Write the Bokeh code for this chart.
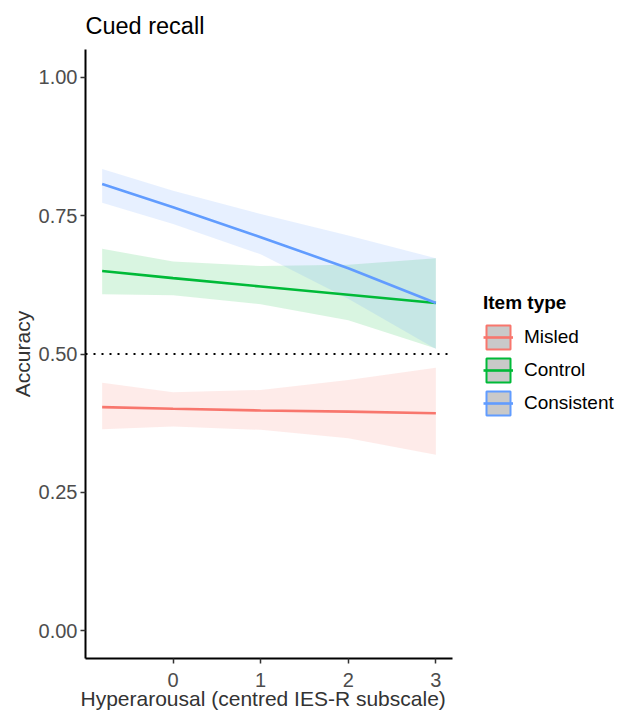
import math
from bokeh.plotting import figure
from bokeh.models import (Range1d, FixedTicker, Legend, LegendItem,
                          ColumnDataSource, Title)
from bokeh.embed import file_html
from bokeh.resources import INLINE

# ---- data ----
x_vals = [-0.81, 0.0, 1.0, 2.0, 3.0]

item_types = ["Misled", "Control", "Consistent"]
colors = ["#F8766D", "#00BA38", "#619CFF"]

misled_fit = [0.404, 0.401, 0.398, 0.396, 0.393]
misled_lo = [0.364, 0.369, 0.363, 0.348, 0.318]
misled_hi = [0.448, 0.431, 0.435, 0.453, 0.475]

control_fit = [0.650, 0.637, 0.622, 0.607, 0.592]
control_lo = [0.608, 0.606, 0.590, 0.561, 0.510]
control_hi = [0.690, 0.667, 0.659, 0.661, 0.673]

consistent_fit = [0.807, 0.765, 0.711, 0.655, 0.592]
consistent_lo = [0.773, 0.735, 0.680, 0.600, 0.509]
consistent_hi = [0.834, 0.795, 0.753, 0.714, 0.673]

fits = [misled_fit, control_fit, consistent_fit]
los = [misled_lo, control_lo, consistent_lo]
his = [misled_hi, control_hi, consistent_hi]

y_ticks = [0.0, 0.25, 0.5, 0.75, 1.0]
y_tick_labels = ["0.00", "0.25", "0.50", "0.75", "1.00"]
x_ticks = [0, 1, 2, 3]
chance_level = 0.5

x_title = "Hyperarousal (centred IES-R subscale)"
y_title = "Accuracy"
chart_title = "Cued recall"

# axis extents (data units)
x_lo, x_hi = -1.0, 3.19
y_lo, y_hi = -0.05, 1.05

FONT = "Liberation Sans"

FRAME_LEFT = 85
PANEL_W = 452 - FRAME_LEFT          # width of the plotting panel in px
W = 619
x_view_hi = x_lo + (x_hi - x_lo) * (W - FRAME_LEFT) / PANEL_W  # frame extends right for legend

p = figure(width=W, height=712, output_backend="svg", toolbar_location=None,
           x_range=Range1d(x_lo, x_view_hi), y_range=Range1d(y_lo, y_hi),
           min_border_left=FRAME_LEFT, min_border_right=0, min_border_top=49,
           min_border_bottom=54, title=chart_title)

p.title.text_font = FONT
p.title.text_font_size = "23.5px"
p.title.text_font_style = "normal"
p.title.text_color = "black"
p.title.align = "left"
p.title.standoff = 21

p.grid.visible = False
p.outline_line_color = None
p.background_fill_color = "white"
p.border_fill_color = "white"

# bands
for lo, hi, c in zip(los, his, colors):
    p.varea(x=x_vals, y1=lo, y2=hi, fill_color=c, fill_alpha=0.15)

# chance line across the panel
p.line(x=[x_lo, x_hi], y=[chance_level, chance_level], line_color="black",
       line_dash="2 6", line_width=2)

# fit lines
for fit, c in zip(fits, colors):
    p.line(x_vals, fit, line_color=c, line_width=2.6)

# legend dummy renderers
items = []
nan_src = ColumnDataSource(dict(l=[math.nan], r=[math.nan], b=[math.nan], t=[math.nan]))
for name, c in zip(item_types, colors):
    q = p.quad(left="l", right="r", bottom="b", top="t", source=nan_src,
               fill_color="#C9C9C9", line_color=c, line_width=2)
    ln = p.line(x=[math.nan], y=[math.nan], line_color=c, line_width=2.6)
    items.append(LegendItem(label=name, renderers=[q, ln]))

legend = Legend(items=items, title="Item type", location=(398, 240))
legend.title_text_font = FONT
legend.title_text_font_size = "19px"
legend.title_text_font_style = "bold"
legend.title_text_color = "black"
legend.title_standoff = 8
legend.label_text_font = FONT
legend.label_text_font_size = "19px"
legend.label_text_color = "black"
legend.glyph_width = 30
legend.glyph_height = 30
legend.spacing = 3
legend.label_standoff = 11
legend.padding = 0
legend.margin = 0
legend.border_line_color = None
legend.background_fill_alpha = 0
p.add_layout(legend, "center")

# axes
for ax in (p.xaxis[0], p.yaxis[0]):
    ax.axis_line_color = "black"
    ax.axis_line_width = 2
    ax.major_tick_line_color = "#333333"
    ax.major_tick_line_width = 1.5
    ax.major_tick_out = 5
    ax.major_tick_in = 0
    ax.minor_tick_line_color = None
    ax.major_label_text_font = FONT
    ax.major_label_text_font_size = "20px"
    ax.major_label_text_color = "#4D4D4D"
    ax.axis_label_text_font = FONT
    ax.axis_label_text_font_size = "21px"
    ax.axis_label_text_font_style = "normal"
    ax.axis_label_text_color = "#333333"

p.xaxis.bounds = (x_lo, x_hi)
p.xaxis.ticker = FixedTicker(ticks=x_ticks)
p.yaxis.ticker = FixedTicker(ticks=y_ticks)
p.yaxis.major_label_overrides = {t: l for t, l in zip(y_ticks, y_tick_labels)}
p.yaxis.axis_label = y_title
p.xaxis.major_label_standoff = 9
p.yaxis.major_label_standoff = 3
p.yaxis.axis_label_standoff = 2

# x axis title, placed under the panel (left-aligned with an offset so it
# is centred under the drawn axis rather than the whole frame)
xt = Title(text=x_title, align="left", offset=-5, standoff=-9,
           text_font=FONT, text_font_size="21px", text_font_style="normal",
           text_color="#333333")
p.add_layout(xt, "below")

open("out.html", "w").write(file_html(p, INLINE))
